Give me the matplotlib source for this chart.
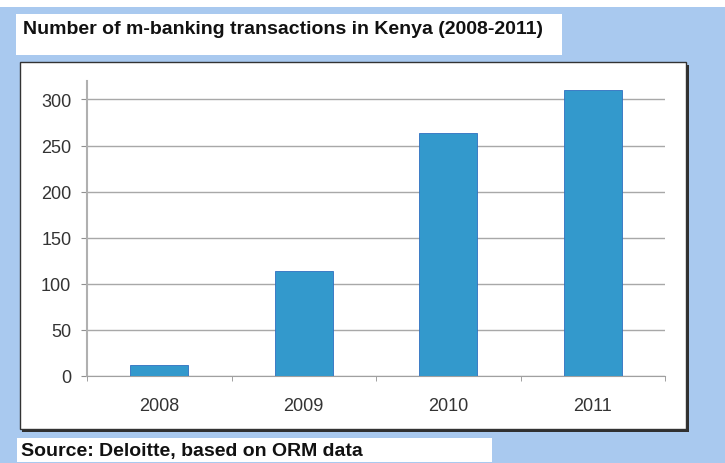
import numpy as np
import matplotlib.pyplot as plt
from matplotlib.patches import Rectangle

years = ['2008', '2009', '2010', '2011']
transactions = [12, 114, 264, 310]
yticks = [0, 50, 100, 150, 200, 250, 300]

W, H = 725, 464
fig = plt.figure(figsize=(W / 100, H / 100), dpi=100)
fig.patch.set_facecolor('white')

def box(x0, y0, x1, y1, **kw):
    # pixel coords, y from top
    r = Rectangle((x0 / W, 1 - y1 / H), (x1 - x0) / W, (y1 - y0) / H,
                  transform=fig.transFigure, **kw)
    fig.patches.append(r)

# blue backdrop
box(0, 8, 725, 464, facecolor='#A9C9EF', edgecolor='none', zorder=0)
# title box
box(16, 15, 562, 56, facecolor='white', edgecolor='none', zorder=1)
# plot frame with shadow
box(22, 66, 689, 433, facecolor='#303030', edgecolor='none', zorder=1)
box(20, 63, 686, 430, facecolor='white', edgecolor='#333333', lw=1.0, zorder=2)
# source box
box(17, 439, 492, 463, facecolor='white', edgecolor='none', zorder=1)

fig.text(23 / W, 1 - 30 / H, 'Number of m-banking transactions in Kenya (2008-2011)',
         fontsize=14, fontweight='bold', family='Liberation Sans',
         va='center', ha='left', color='#111111')
fig.text(21 / W, 1 - 452 / H, 'Source: Deloitte, based on ORM data',
         fontsize=14, fontweight='bold', family='Liberation Sans',
         va='center', ha='left', color='#111111')

ax = fig.add_axes([87 / W, 1 - 377 / H, 578 / W, 295 / H])
ax.set_zorder(3)
ax.patch.set_alpha(0)

x = np.arange(len(years))
ax.bar(x, transactions, width=0.4, color='#3399CC', edgecolor='#2E6FC0',
       linewidth=0.6, zorder=3)

ax.set_xlim(-0.5, len(years) - 0.5)
ax.set_ylim(0, 320)
ax.set_yticks(yticks)
ax.set_yticklabels([str(v) for v in yticks], family='Liberation Sans',
                   fontsize=13, color='#333333')
ax.set_xticks(x)
ax.set_xticklabels(years, family='Liberation Sans', fontsize=13, color='#333333')
ax.set_xticks(np.arange(len(years) + 1) - 0.5, minor=True)
ax.tick_params(axis='x', which='major', length=0, pad=15)
ax.tick_params(axis='x', which='minor', length=3.5, color='#909090', direction='out')
ax.tick_params(axis='y', length=4.3, color='#909090', direction='out', pad=7)

ax.grid(axis='y', color='#A8A8A8', linewidth=1.0, zorder=1)
for s in ['top', 'right']:
    ax.spines[s].set_visible(False)
ax.spines['left'].set_color('#B0B0B0')
ax.spines['left'].set_linewidth(1.5)
ax.spines['bottom'].set_color('#A0A0A0')

fig.savefig('out.png', dpi=100)
